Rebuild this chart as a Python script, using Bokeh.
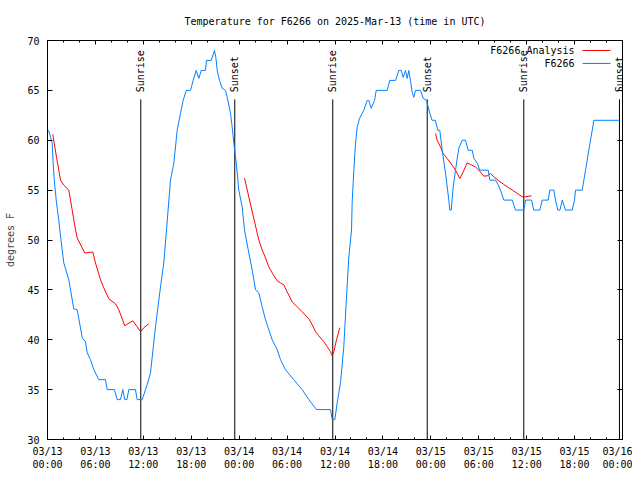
import math
from bokeh.plotting import figure
from bokeh.models import FixedTicker, LinearAxis, Label, Arrow
from bokeh.core.properties import value
from bokeh.embed import file_html
from bokeh.resources import INLINE

NaN = float("nan")

# hours since 2025-03-13 00:00 UTC
obs_hours = [0.13, 0.38, 0.59, 0.71, 0.88, 1.13, 1.41, 1.54, 2.04, 2.67, 3.29, 3.72, 4.35, 4.76,
             4.97, 5.38, 5.80, 6.42, 7.26, 7.48, 8.39, 8.73, 9.14, 9.43, 9.68, 9.95, 10.18, 11.02,
             11.23, 11.86, 12.27, 12.48, 12.90, 13.52, 14.15, 14.56, 14.90, 15.40, 15.82, 16.24,
             16.65, 16.99, 17.37, 17.91, 18.24, 18.62, 18.95, 19.25, 19.78, 19.91, 20.50, 20.91,
             21.08, 21.25, 21.54, 21.88, 22.29, 22.50, 22.92, 23.13, 23.33, 23.67, 23.95, 24.38,
             24.67, 25.21, 25.63, 26.05, 26.46, 26.88, 27.30, 27.71, 28.14, 28.76, 29.18, 29.80,
             30.84, 31.89, 32.72, 33.68, 35.44, 35.65, 35.98, 36.28, 36.69, 37.10, 37.44, 37.73,
             38.07, 38.15, 38.36, 38.57, 38.78, 39.07, 39.61, 40.03, 40.23, 40.53, 40.95, 41.16,
             42.54, 42.86, 43.58, 43.99, 44.29, 44.54, 44.83, 45.04, 45.24, 45.45, 45.67, 45.87,
             46.08, 46.71, 47.05, 47.46, 47.87, 48.16, 48.58, 48.87, 49.12, 49.42, 49.84, 50.25,
             50.38, 50.55, 50.80, 51.09, 51.50, 51.93, 52.34, 52.68, 53.18, 53.38, 53.81, 54.13,
             55.18, 55.38, 56.10, 56.39, 56.72, 57.14, 58.19, 58.60, 59.64, 59.86, 60.61, 60.89,
             61.65, 61.95, 62.70, 62.90, 63.40, 63.61, 63.90, 64.17, 64.45, 64.86, 65.70, 65.99,
             66.12, 66.95, 67.16, 67.37, 67.58, 67.78, 67.99, 68.21, 68.41, 71.63]
obs_temp = [61, 60.3, 59.7, 57.7, 55.7, 53.7, 52, 51, 47.7, 46, 43.1, 43, 40.2, 39.8,
            38.7, 38, 37, 36, 36, 35, 35, 34, 34, 35, 34, 34, 35, 35,
            34, 34, 35, 35.5, 36.7, 41.3, 45.3, 47.7, 51, 56, 57.7, 61,
            62.7, 64, 65, 65, 66, 67, 66.2, 67, 67, 68, 68, 69,
            68.3, 67, 66, 65.2, 65, 64.3, 62.7, 61.3, 59.7, 57.5, 55, 53.3,
            51, 48.7, 47, 45, 44.7, 43.3, 42, 41, 40, 39, 38, 37,
            36, 35, 34, 33, 33, 32, 32, 33.7, 35.7, 39.3, 44.3, 48.3,
            51, 53.8, 57, 59.7, 61.3, 62.2, 63, 64, 64, 63.2, 64, 65,
            65, 66, 66, 67, 67, 66.3, 67, 66.2, 67, 66, 64.8, 64.3,
            65, 65, 64.2, 64, 62.7, 62, 62, 61, 61, 59, 56.7, 54,
            53, 53, 55.3, 57, 59.2, 60, 60, 59, 59, 58.2, 57.7, 57,
            57, 56, 56, 55.6, 55, 54, 54, 53, 53, 54, 54, 53,
            53, 54, 54, 55, 55, 54, 53, 53, 54, 53, 53, 54,
            55, 55, 56, 57, 58, 59, 60, 61, 62, 62]

analysis_hours = [0.66, 1.13, 1.63, 2.04, 2.67, 3.09, 3.51, 3.72, 4.67, 5.67, 6.01, 6.64, 7.05,
                  7.68, 8.52, 8.93, 9.68, 10.06, 10.68, 11.23, 11.65, 12.06, 12.68, NaN,
                  24.67, 25.21, 26.17, 26.46, 26.88, 27.30, 27.71, 28.14, 28.76, 29.18, 29.59,
                  30.01, 30.64, 31.26, 31.89, 32.72, 33.15, 33.56, 33.97, 34.60, 35.02, 35.44,
                  35.65, 35.85, 36.19, 36.60, NaN,
                  48.58, 48.80, 49.21, 49.55, 50.05, 50.67, 51.09, 51.63, 52.05, 52.55, 52.97,
                  53.59, 54.01, 54.63, 55.06, 55.47, 55.89, 56.51, 57.14, 57.77, 58.39, 59.02,
                  59.44, 59.86, 60.61]
analysis_temp = [60.6, 58.3, 56, 55.5, 55, 53, 51, 50.2, 48.7, 48.8, 47.7, 46, 45.2,
                 44.1, 43.6, 43, 41.4, 41.6, 41.9, 41.3, 40.8, 41.2, 41.6, NaN,
                 56.2, 54.3, 51, 50, 49, 48.2, 47.3, 46.7, 45.9, 45.7, 45.5,
                 44.8, 43.8, 43.3, 42.8, 42.1, 41.5, 40.8, 40.4, 39.8, 39.3, 38.8,
                 38.4, 38.8, 40, 41.2, NaN,
                 60.67, 60, 59.33, 58.67, 58.17, 57.5, 57, 56.17, 56.83, 57.73, 57.57,
                 57.33, 57, 56.4, 56.43, 56.67, 56.33, 55.93, 55.57, 55.23, 54.9, 54.57,
                 54.33, 54.33, 54.43]

sun_hours = [11.68, 23.45, 35.72, 47.55, 59.64, 71.62]
sun_names = ["Sunrise", "Sunset", "Sunrise", "Sunset", "Sunrise", "Sunset"]

x_ticks = [0, 6, 12, 18, 24, 30, 36, 42, 48, 54, 60, 66, 72]
x_tick_labels = ["03/13\n00:00", "03/13\n06:00", "03/13\n12:00", "03/13\n18:00",
                 "03/14\n00:00", "03/14\n06:00", "03/14\n12:00", "03/14\n18:00",
                 "03/15\n00:00", "03/15\n06:00", "03/15\n12:00", "03/15\n18:00",
                 "03/16\n00:00"]
x_minor_ticks = list(range(0, 73, 2))
y_ticks = [30, 35, 40, 45, 50, 55, 60, 65, 70]

FONT = "DejaVu Sans Mono"
FS = "10px"
RED = "#ff0000"
BLUE = "#0080ff"

p = figure(width=632, height=472, x_range=(0, 72), y_range=(30, 70),
           output_backend="svg", toolbar_location=None,
           min_border_left=47, min_border_right=10, min_border_top=40, min_border_bottom=32,
           title="Temperature for F6266 on 2025-Mar-13 (time in UTC)")
p.title.align = "center"
p.title.vertical_align = "top"
p.title.standoff = 24
p.title.text_font = FONT
p.title.text_font_size = FS
p.title.text_font_style = "normal"
p.title.text_color = "black"
p.xgrid.visible = False
p.ygrid.visible = False
p.outline_line_color = "black"
p.outline_line_width = 1
p.background_fill_color = "white"
p.border_fill_color = "white"

xt = FixedTicker(ticks=x_ticks, minor_ticks=x_minor_ticks)
yt = FixedTicker(ticks=y_ticks, minor_ticks=[])

xa = p.xaxis[0]
xa.ticker = xt
xa.major_label_overrides = {t: s for t, s in zip(x_ticks, x_tick_labels)}
ya = p.yaxis[0]
ya.ticker = yt
ya.axis_label = "degrees F"
ya.axis_label_standoff = 8
ya.axis_label_text_font = FONT
ya.axis_label_text_font_size = FS
ya.axis_label_text_font_style = "normal"
ya.major_label_standoff = 8

for ax in (xa, ya):
    ax.major_label_text_font = FONT
    ax.major_label_text_font_size = FS
    ax.major_label_text_color = "black"
    ax.axis_line_color = "black"
    ax.major_tick_out = 0
    ax.minor_tick_out = 0
    ax.major_tick_line_color = "black"
    ax.minor_tick_line_color = "black"
xa.major_tick_in = 4
xa.minor_tick_in = 2
ya.major_tick_in = 5
ya.minor_tick_in = 0
xa.major_label_standoff = 6

# mirrored tick marks on the top and right borders (no labels)
top = LinearAxis(ticker=xt, major_tick_in=4, major_tick_out=0, minor_tick_in=2, minor_tick_out=0,
                 major_label_overrides={t: "" for t in x_ticks}, major_label_standoff=0,
                 axis_line_color="black")
right = LinearAxis(ticker=yt, major_tick_in=5, major_tick_out=0, minor_tick_in=0, minor_tick_out=0,
                   major_label_overrides={t: "" for t in y_ticks}, major_label_standoff=0,
                   axis_line_color="black")
p.add_layout(top, "above")
p.add_layout(right, "right")

# sunrise / sunset markers
LINE_TOP = 64.1
LABEL_Y = 64.8
p.segment(x0=sun_hours, y0=[30] * len(sun_hours), x1=sun_hours, y1=[LINE_TOP] * len(sun_hours),
          line_color="black", line_width=1)
p.text(x=sun_hours, y=[LABEL_Y] * len(sun_hours), text=sun_names, angle=math.pi / 2,
       text_align="left", text_baseline="middle", text_font=value(FONT), text_font_size=FS,
       text_color="black")

p.line(analysis_hours, analysis_temp, line_color=RED, line_width=1)
p.line(obs_hours, obs_temp, line_color=BLUE, line_width=1)

# legend (gnuplot style: label then sample)
for name, col, ly in (("F6266 Analysis", RED, 69.0), ("F6266", BLUE, 67.7)):
    p.add_layout(Label(x=66.0, y=ly, text=name, text_align="right", text_baseline="middle",
                       text_font=FONT, text_font_size=FS, text_color="black"))
    p.add_layout(Arrow(end=None, x_start=67.0, y_start=ly, x_end=70.5, y_end=ly,
                       line_color=col, line_width=1))

open("out.html", "w").write(file_html(p, INLINE))
